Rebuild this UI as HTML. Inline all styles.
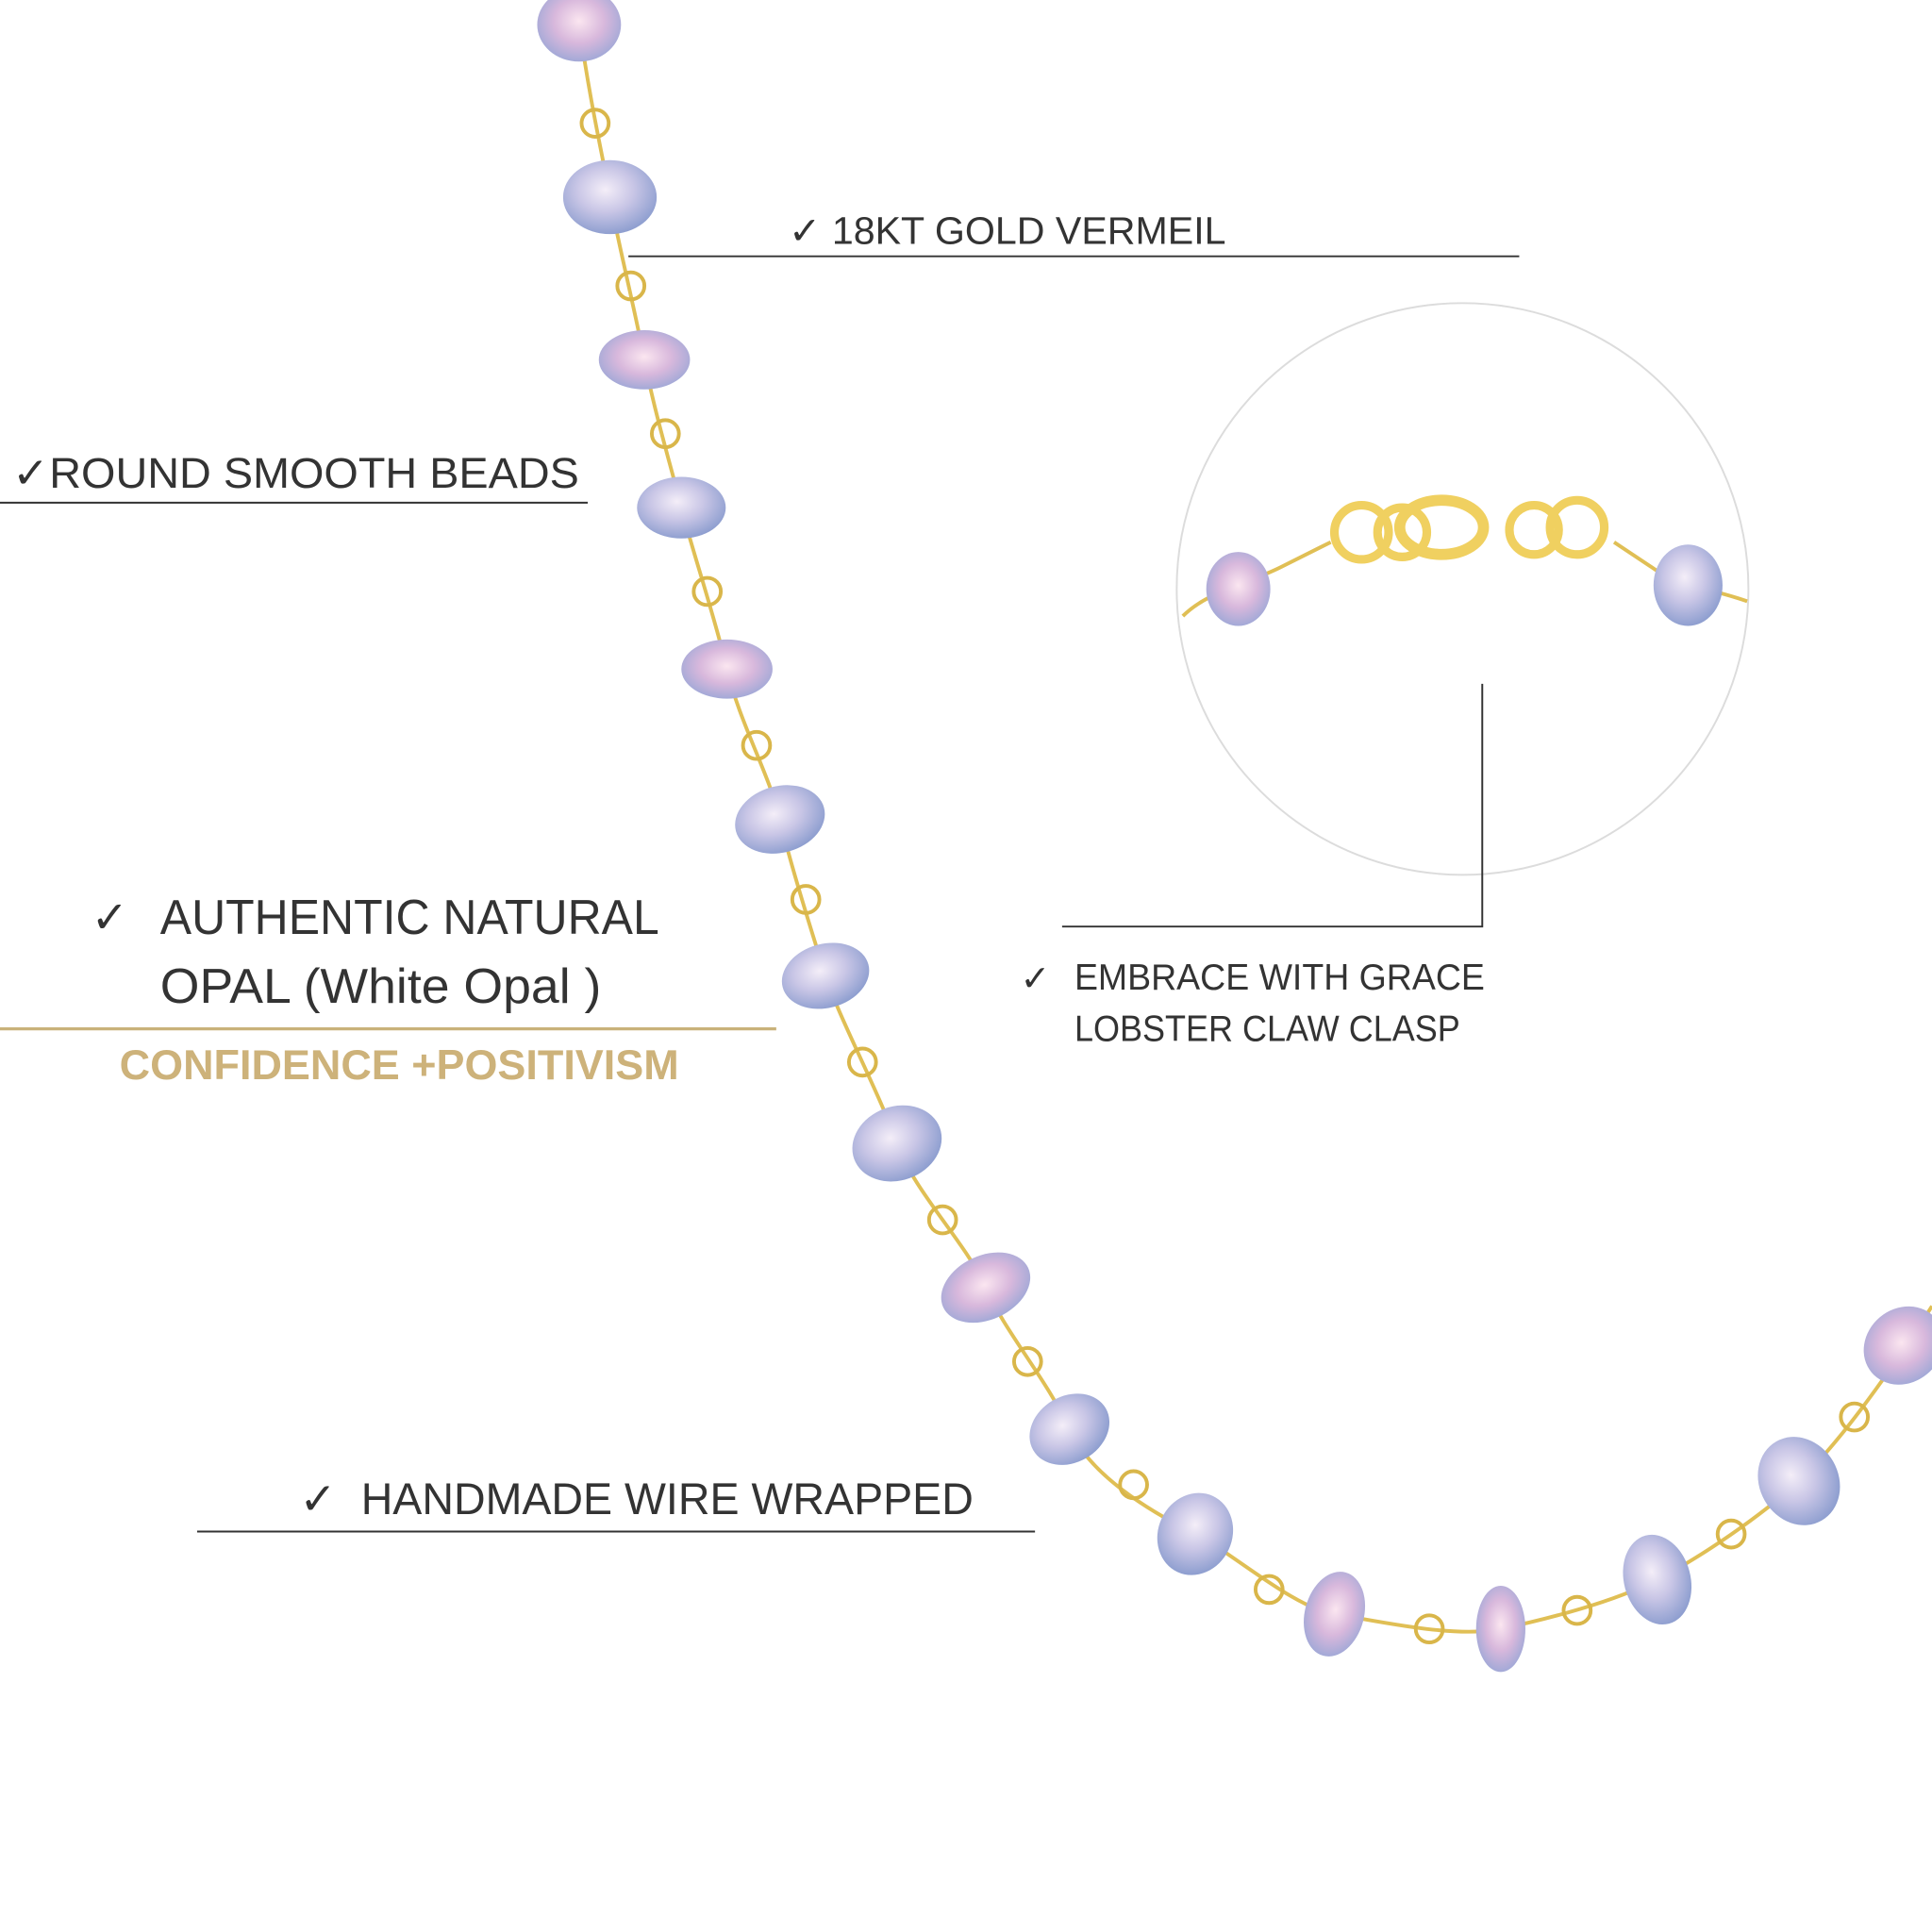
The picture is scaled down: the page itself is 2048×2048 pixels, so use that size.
<!DOCTYPE html>
<html><head><meta charset="utf-8"><style>
html,body{margin:0;padding:0;background:#fff;}
svg{display:block;}
text{font-family:"Liberation Sans",sans-serif;fill:#333;}
</style></head><body>
<svg width="2048" height="2048" viewBox="0 0 1568 1568" xmlns="http://www.w3.org/2000/svg">
<defs>
<radialGradient id="op" cx="45%" cy="40%" r="60%">
<stop offset="0" stop-color="#f4eef8"/><stop offset="0.5" stop-color="#c9c6e6"/><stop offset="1" stop-color="#8f9fd0"/>
</radialGradient>
<radialGradient id="op2" cx="50%" cy="45%" r="60%">
<stop offset="0" stop-color="#fbe6f0"/><stop offset="0.5" stop-color="#d8b8dc"/><stop offset="1" stop-color="#98a6d6"/>
</radialGradient>
</defs>
<rect width="1568" height="1568" fill="#fff"/>
<circle cx="1187" cy="478" r="232" fill="#fff" stroke="#dcdcdc" stroke-width="1.5"/>
<path d="M470,20 C480,90 490,130 495,160 S515,250 523,292 S545,380 553,412 S580,500 590,543 S625,630 633,665 S660,760 670,792 S715,890 728,928 S785,1010 800,1045 S850,1120 868,1160 S940,1230 970,1245 S1050,1305 1083,1310 S1180,1330 1218,1322 S1310,1300 1345,1282 S1430,1230 1460,1202 S1530,1120 1568,1060" fill="none" stroke="#e0bf55" stroke-width="3"/>
<g fill="none" stroke="#d9b64a" stroke-width="3">
<circle cx="483" cy="100" r="11"/><circle cx="512" cy="232" r="11"/><circle cx="540" cy="352" r="11"/><circle cx="574" cy="480" r="11"/><circle cx="614" cy="605" r="11"/><circle cx="654" cy="730" r="11"/><circle cx="700" cy="862" r="11"/><circle cx="765" cy="990" r="11"/><circle cx="834" cy="1105" r="11"/><circle cx="920" cy="1205" r="11"/><circle cx="1030" cy="1290" r="11"/><circle cx="1160" cy="1322" r="11"/><circle cx="1280" cy="1307" r="11"/><circle cx="1405" cy="1245" r="11"/><circle cx="1505" cy="1150" r="11"/>
</g>
<g>
<ellipse cx="470" cy="20" rx="34" ry="30" fill="url(#op2)"/>
<ellipse cx="495" cy="160" rx="38" ry="30" fill="url(#op)"/>
<ellipse cx="523" cy="292" rx="37" ry="24" fill="url(#op2)"/>
<ellipse cx="553" cy="412" rx="36" ry="25" fill="url(#op)"/>
<ellipse cx="590" cy="543" rx="37" ry="24" fill="url(#op2)"/>
<ellipse cx="633" cy="665" rx="37" ry="27" fill="url(#op)" transform="rotate(-15 633 665)"/>
<ellipse cx="670" cy="792" rx="36" ry="26" fill="url(#op)" transform="rotate(-15 670 792)"/>
<ellipse cx="728" cy="928" rx="37" ry="30" fill="url(#op)" transform="rotate(-20 728 928)"/>
<ellipse cx="800" cy="1045" rx="38" ry="26" fill="url(#op2)" transform="rotate(-25 800 1045)"/>
<ellipse cx="868" cy="1160" rx="34" ry="27" fill="url(#op)" transform="rotate(-30 868 1160)"/>
<ellipse cx="970" cy="1245" rx="30" ry="34" fill="url(#op)" transform="rotate(25 970 1245)"/>
<ellipse cx="1083" cy="1310" rx="24" ry="35" fill="url(#op2)" transform="rotate(15 1083 1310)"/>
<ellipse cx="1218" cy="1322" rx="20" ry="35" fill="url(#op2)"/>
<ellipse cx="1345" cy="1282" rx="27" ry="37" fill="url(#op)" transform="rotate(-15 1345 1282)"/>
<ellipse cx="1460" cy="1202" rx="32" ry="37" fill="url(#op)" transform="rotate(-30 1460 1202)"/>
<ellipse cx="1545" cy="1092" rx="34" ry="30" fill="url(#op2)" transform="rotate(-40 1545 1092)"/>
</g>
<path d="M960,500 C980,480 1010,475 1040,460 L1080,440 M1310,440 L1340,460 C1360,475 1390,478 1418,488" fill="none" stroke="#e0bf55" stroke-width="3"/>
<g fill="none" stroke="#f0d060" stroke-width="7">
<circle cx="1105" cy="432" r="22"/><circle cx="1138" cy="432" r="20"/>
<ellipse cx="1170" cy="428" rx="34" ry="22" stroke-width="9"/>
<circle cx="1245" cy="430" r="20"/><circle cx="1280" cy="428" r="22"/>
</g>
<ellipse cx="1005" cy="478" rx="26" ry="30" fill="url(#op2)"/>
<ellipse cx="1370" cy="475" rx="28" ry="33" fill="url(#op)"/>
<g stroke="#333" stroke-width="1.5" fill="none">
<line x1="510" y1="208" x2="1233" y2="208"/>
<line x1="0" y1="408" x2="477" y2="408"/>
<polyline points="1203,555 1203,752 862,752"/>
<line x1="160" y1="1243" x2="840" y2="1243"/>
</g>
<line x1="0" y1="835" x2="630" y2="835" stroke="#c9b27a" stroke-width="2.5"/>
<text x="640" y="198" font-size="31" textLength="355" lengthAdjust="spacingAndGlyphs">✓ 18KT GOLD VERMEIL</text>
<text x="10" y="396" font-size="35" textLength="460" lengthAdjust="spacingAndGlyphs">✓ROUND SMOOTH BEADS</text>
<text x="74" y="757" font-size="36">✓</text>
<text x="130" y="758" font-size="40" textLength="405" lengthAdjust="spacingAndGlyphs">AUTHENTIC NATURAL</text>
<text x="130" y="814" font-size="40" textLength="358" lengthAdjust="spacingAndGlyphs">OPAL (White Opal )</text>
<text x="97" y="876" font-size="34" font-weight="bold" style="fill:#cdb27a" textLength="454" lengthAdjust="spacingAndGlyphs">CONFIDENCE +POSITIVISM</text>
<text x="828" y="804" font-size="29">✓</text>
<text x="872" y="803" font-size="30" textLength="333" lengthAdjust="spacingAndGlyphs">EMBRACE WITH GRACE</text>
<text x="872" y="845" font-size="30" textLength="313" lengthAdjust="spacingAndGlyphs">LOBSTER CLAW CLASP</text>
<text x="243" y="1229" font-size="36">✓</text>
<text x="293" y="1229" font-size="36" textLength="497" lengthAdjust="spacingAndGlyphs">HANDMADE WIRE WRAPPED</text>
</svg>
</body></html>
